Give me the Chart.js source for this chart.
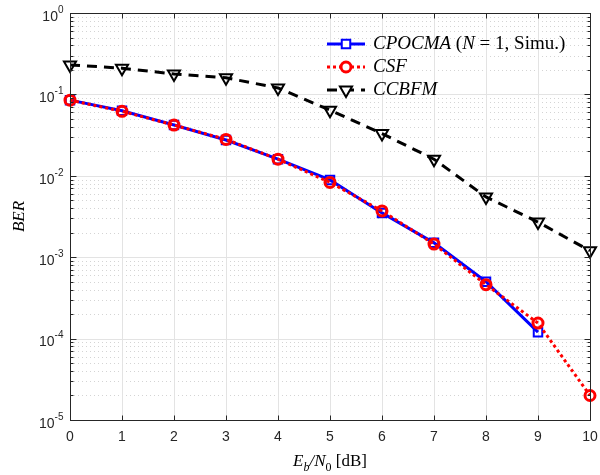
<!DOCTYPE html>
<html>
<head>
<meta charset="utf-8">
<script src="https://cdn.jsdelivr.net/npm/chart.js@4.4.0/dist/chart.umd.min.js"></script>
<style>
  html, body { margin: 0; padding: 0; background: #fff; }
  #wrap { width: 600px; height: 475px; }
</style>
</head>
<body>
<div id="wrap"><canvas id="berChart" width="600" height="475"></canvas></div>
<script>
// Eb/N0 (dB) and BER values
const ebn0 = [0, 1, 2, 3, 4, 5, 6, 7, 8, 9, 10];
const berCPOCMA = [0.085, 0.063, 0.042, 0.0275, 0.016, 0.0089, 0.0035, 0.0015, 0.0005, 0.00012, null];
const berCSF = [0.085, 0.062, 0.042, 0.028, 0.016, 0.0083, 0.0037, 0.00145, 0.00046, 0.000155, 0.00002];
const berCCBFM = [0.23, 0.21, 0.178, 0.16, 0.12, 0.064, 0.033, 0.016, 0.0055, 0.0027, 0.0012];

const xTicks = [0, 1, 2, 3, 4, 5, 6, 7, 8, 9, 10];
const yDecades = [-5, -4, -3, -2, -1, 0];

const axisColor = '#262626';
const tickFont = '14px "Liberation Sans", Arial, sans-serif';
const supFont = '10px "Liberation Sans", Arial, sans-serif';

function toPoints(ys) {
    return ebn0.map((x, i) => ({ x: x, y: ys[i] }));
}

function hline(ctx, x1, x2, y) {
    ctx.beginPath(); ctx.moveTo(x1, y); ctx.lineTo(x2, y); ctx.stroke();
}
function vline(ctx, x, y1, y2) {
    ctx.beginPath(); ctx.moveTo(x, y1); ctx.lineTo(x, y2); ctx.stroke();
}

// grid in the MATLAB style: solid major lines, dotted minor lines
const gridPlugin = {
    id: 'matlabGrid',
    beforeDatasetsDraw(chart) {
        const { ctx, chartArea: a, scales: { x, y } } = chart;
        ctx.save();
        ctx.lineWidth = 1;

        ctx.strokeStyle = '#d4d4d4';
        ctx.setLineDash([1, 3]);
        yDecades.slice(0, -1).forEach(d => {
            for (let m = 2; m <= 9; m++) {
                const py = Math.round(y.getPixelForValue(m * Math.pow(10, d))) + 0.5;
                hline(ctx, a.left, a.right, py);
            }
        });

        ctx.setLineDash([]);
        ctx.strokeStyle = '#e3e3e3';
        yDecades.forEach(d => {
            const py = Math.round(y.getPixelForValue(Math.pow(10, d))) + 0.5;
            hline(ctx, a.left, a.right, py);
        });
        xTicks.forEach(v => {
            const px = Math.round(x.getPixelForValue(v)) + 0.5;
            vline(ctx, px, a.top, a.bottom);
        });
        ctx.restore();
    },
    afterDraw(chart) {
        const { ctx, chartArea: a, scales: { x, y } } = chart;
        const L = Math.round(a.left) + 0.5, R = Math.round(a.right) + 0.5;
        const T = Math.round(a.top) + 0.5, B = Math.round(a.bottom) + 0.5;
        ctx.save();
        ctx.strokeStyle = axisColor;
        ctx.lineWidth = 1;
        ctx.strokeRect(L, T, R - L, B - T);

        // ticks
        xTicks.forEach(v => {
            const px = Math.round(x.getPixelForValue(v)) + 0.5;
            vline(ctx, px, B, B - 5);
            vline(ctx, px, T, T + 5);
        });
        yDecades.forEach(d => {
            const py = Math.round(y.getPixelForValue(Math.pow(10, d))) + 0.5;
            hline(ctx, L, L + 6, py);
            hline(ctx, R, R - 6, py);
            if (d < 0) {
                for (let m = 2; m <= 9; m++) {
                    const pm = Math.round(y.getPixelForValue(m * Math.pow(10, d))) + 0.5;
                    hline(ctx, L, L + 3, pm);
                    hline(ctx, R, R - 3, pm);
                }
            }
        });

        // tick labels
        ctx.fillStyle = axisColor;
        ctx.font = tickFont;
        ctx.textAlign = 'center';
        ctx.textBaseline = 'middle';
        xTicks.forEach(v => {
            ctx.fillText(String(v), x.getPixelForValue(v), B + 17);
        });

        yDecades.forEach(d => {
            const py = y.getPixelForValue(Math.pow(10, d));
            const sup = String(d);
            ctx.font = supFont;
            const supW = ctx.measureText(sup).width;
            ctx.textAlign = 'right';
            ctx.textBaseline = 'middle';
            ctx.fillText(sup, L - 7, py - 3);
            ctx.font = tickFont;
            ctx.fillText('10', L - 7 - supW, py + 4);
        });

        // axis titles
        ctx.fillStyle = '#000';
        ctx.textBaseline = 'alphabetic';
        ctx.textAlign = 'left';
        const cx = (a.left + a.right) / 2;
        const parts = [
            { t: 'E', f: 'italic 17px "Liberation Serif", serif', dy: 0 },
            { t: 'b', f: 'italic 12px "Liberation Serif", serif', dy: 5 },
            { t: '/N', f: 'italic 17px "Liberation Serif", serif', dy: 0 },
            { t: '0', f: '12px "Liberation Serif", serif', dy: 5 },
            { t: ' [dB]', f: '17px "Liberation Serif", serif', dy: 0 }
        ];
        let total = 0;
        parts.forEach(p => { ctx.font = p.f; p.w = ctx.measureText(p.t).width; total += p.w; });
        let xx = cx - total / 2;
        const baseY = 466;
        parts.forEach(p => {
            ctx.font = p.f;
            ctx.fillText(p.t, xx, baseY + p.dy);
            xx += p.w;
        });

        ctx.save();
        ctx.translate(24, (a.top + a.bottom) / 2);
        ctx.rotate(-Math.PI / 2);
        ctx.textAlign = 'center';
        ctx.font = 'italic 17px "Liberation Serif", serif';
        ctx.fillText('BER', 0, 0);
        ctx.restore();

        // legend
        const rows = [
            { ds: chart.data.datasets[0], y: 44,
              text: [['CPOCMA ', 'italic'], ['(', ''], ['N', 'italic'], [' = 1, Simu.)', '']] },
            { ds: chart.data.datasets[1], y: 67, text: [['CSF', 'italic']] },
            { ds: chart.data.datasets[2], y: 90, text: [['CCBFM', 'italic']] }
        ];
        rows.forEach(r => {
            const ds = r.ds;
            ctx.strokeStyle = ds.borderColor;
            ctx.lineWidth = ds.borderWidth;
            ctx.setLineDash(ds.borderDash || []);
            hline(ctx, 327, 365, r.y);
            ctx.setLineDash([]);
            ctx.lineWidth = ds.pointBorderWidth;
            ctx.fillStyle = '#ffffff';
            Chart.helpers.drawPoint(ctx, {
                pointStyle: ds.pointStyle,
                rotation: ds.pointRotation || 0,
                radius: ds.pointRadius,
                borderWidth: ds.pointBorderWidth
            }, 346, r.y);
            ctx.fillStyle = '#000';
            ctx.textBaseline = 'middle';
            ctx.textAlign = 'left';
            let tx = 373;
            r.text.forEach(([t, st]) => {
                ctx.font = (st ? st + ' ' : '') + '19px "Liberation Serif", serif';
                ctx.fillText(t, tx, r.y);
                tx += ctx.measureText(t).width;
            });
        });
        ctx.restore();
    }
};

const ctx = document.getElementById('berChart');

new Chart(ctx, {
    type: 'line',
    data: {
        datasets: [
            {
                label: 'CPOCMA (N = 1, Simu.)',
                data: toPoints(berCPOCMA),
                borderColor: '#0000ff',
                borderWidth: 3,
                pointStyle: 'rect',
                pointRadius: 6,
                pointBorderWidth: 2,
                pointBorderColor: '#0000ff',
                pointBackgroundColor: 'rgba(0,0,0,0)',
                order: 1,
                clip: false
            },
            {
                label: 'CSF',
                data: toPoints(berCSF),
                borderColor: '#ff0000',
                borderWidth: 3,
                borderDash: [3, 3],
                pointStyle: 'circle',
                pointRadius: 5,
                pointBorderWidth: 3,
                pointBorderColor: '#ff0000',
                pointBackgroundColor: 'rgba(0,0,0,0)',
                order: 0,
                clip: false
            },
            {
                label: 'CCBFM',
                data: toPoints(berCCBFM),
                borderColor: '#000000',
                borderWidth: 3,
                borderDash: [10, 7],
                pointStyle: 'triangle',
                pointRotation: 180,
                pointRadius: 7,
                pointBorderWidth: 2,
                pointBorderColor: '#000000',
                pointBackgroundColor: 'rgba(0,0,0,0)',
                order: 2,
                clip: false
            }
        ]
    },
    options: {
        responsive: false,
        devicePixelRatio: 1,
        animation: false,
        layout: { padding: { left: 70, top: 13, right: 10, bottom: 55 } },
        plugins: {
            legend: { display: false },
            tooltip: { enabled: false }
        },
        scales: {
            x: { type: 'linear', min: 0, max: 10, display: false },
            y: { type: 'logarithmic', min: 1e-5, max: 1, display: false }
        }
    },
    plugins: [gridPlugin]
});
</script>
</body>
</html>
